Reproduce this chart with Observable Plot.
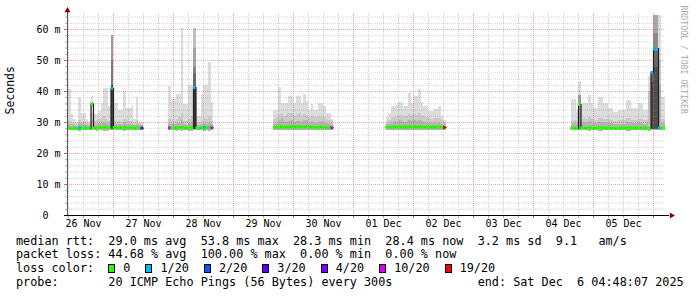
<!DOCTYPE html>
<html><head><meta charset="utf-8">
<script src="https://cdn.jsdelivr.net/npm/d3@7"></script>
<script src="https://cdn.jsdelivr.net/npm/@observablehq/plot@0.6"></script>
<style>
html,body{margin:0;padding:0;background:#fff}
body{width:697px;height:297px;overflow:hidden}
#chart svg{display:block}
#legend{font-family:"DejaVu Sans Mono",monospace;font-size:11.8px;line-height:13.7px;padding:2.6px 0 0 16px;white-space:pre;color:#000}
#legend .row{height:13.7px}
.box{display:inline-block;width:5px;height:7px;border:1px solid #000;margin-right:8px;vertical-align:-1px}
.item{margin-right:15px}
</style></head>
<body><div id="chart"></div><div id="legend"></div>
<script>
// ---- time frame of the graph ----
const graphStart = "2025-11-26T05:36Z";
const graphEnd = "2025-12-06T04:48Z";
const yTop = 65.16;

// ---- hourly buckets, segment 1 ----
const seg1Start = "2025-11-26T05:00Z";
const seg1Min = [27.3,27.3,27.4,27.4,27.4,27.2,27.3,27.3,27.4,27.4,27.3,27.3,27.2,27.3,27.3,27.2,27.2,27.3,27.4,27.3,27.3,27.3,27.4,27.2,27.3,27.3,27.3,27.4,27.3,27.4,27.4];
const seg1Max = [40.5,40.5,32.5,31,30,38,33,33,31,30,38.5,32.5,32.5,33.5,36,41,41,35,58,36,36,34,34,40,34.5,34.5,35,31,38,30,30];
const seg1Hi2 = [30.2,30.5,29.8,29.6,29.4,30.8,30,30.4,29.6,29.5,33,30.2,30.6,31,31.2,31.8,31,30.4,45,30.8,30.4,30.2,30,31,30.6,30.2,30.4,29.8,30.8,29.6,29.5];
const seg1Hi3 = [29.2,29.4,29,28.9,28.8,29.6,29.2,29.4,29,28.9,30.5,29.3,29.5,29.8,29.6,30,29.7,29.4,40,29.6,29.4,29.2,29.1,29.8,29.4,29.2,29.3,29,29.5,28.9,28.9];
const seg1Median = [28.2,28.2,28.1,28.1,28.0,28.3,28.2,28.2,28.1,28.1,36.0,28.2,28.3,28.3,28.4,28.5,28.4,28.3,41.0,28.4,28.3,28.3,28.2,28.4,28.3,28.3,28.3,28.2,28.3,28.2,28.2];
const seg1Loss = [0,0,0,0,0,1,0,0,0,0,0,0,0,0,0,0,0,0,1,0,0,0,0,0,0,0,0,0,0,0,4];

// ---- segment 2 ----
const seg2Start = "2025-11-27T22:00Z";
const seg2Min = [27.4,27.3,27.3,27.2,27.3,27.2,27.3,27.3,27.2,27.2,27.3,27.4,27.4,27.3,27.2,27.3,27.2,27.4];
const seg2Max = [41.6,37.4,37.4,39,39,60.6,35.8,35.8,42,42,60.3,32,32,39,42,42,49.4,36.5];
const seg2Hi2 = [31,30.6,30.4,31,31.5,33,30.4,30.2,31,31.8,50,29.8,30,30.6,31.4,31,32,30.4];
const seg2Hi3 = [29.4,29.3,29.2,29.6,29.8,30.5,29.2,29.1,29.6,30,45,28.9,29,29.4,29.8,29.5,29.8,29.2];
const seg2Median = [28.3,28.2,28.2,28.3,28.3,28.4,28.2,28.2,28.3,28.4,41.3,28.2,28.2,28.3,28.4,28.3,28.4,28.3];
const seg2Loss = [10,0,0,0,0,0,0,0,0,0,1,0,0,0,1,0,0,10];

// ---- segment 3 ----
const seg3Start = "2025-11-29T16:00Z";
const seg3Min = [27.5,27.4,27.4,27.3,27.4,27.4,27.3,27.3,27.4,27.3,27.3,27.4,27.3,27.3,27.4,27.4,27.4,27.4,27.4,27.4,27.4,27.5,27.5,27.5];
const seg3Max = [34,34,41.4,36,36,36,38.4,38.4,36,38.4,38.4,36,39,36.9,33.9,35.8,33.9,33.9,36,36,35,32.8,32.8,31];
const seg3Hi2 = [31,31.5,32.5,32.8,32,32.5,32.8,33,32,32.6,32.8,32,32.5,32.2,31.6,32,31.5,31.6,32,32,31.5,31,30.8,30.2];
const seg3Hi3 = [29.5,29.8,30.5,31.3,30.2,30,30.4,30.6,30,30.4,30.2,30,30.5,30.8,29.8,30.2,29.8,29.8,30,30.2,29.8,29.6,29.5,29.2];
const seg3Median = [28.4,28.5,28.5,28.6,28.5,28.5,28.6,28.6,28.5,28.6,28.6,28.5,28.6,28.6,28.5,28.5,28.4,28.4,28.5,28.5,28.4,28.4,28.4,28.3];
const seg3Loss = [0,0,0,0,0,0,0,0,0,0,0,0,0,0,0,0,0,0,0,0,0,0,0,10];

// ---- segment 4 ----
const seg4Start = "2025-12-01T13:00Z";
const seg4Min = [27.5,27.5,27.4,27.4,27.4,27.3,27.3,27.4,27.4,27.3,27.3,27.3,27.3,27.3,27.4,27.4,27.4,27.4,27.4,27.4,27.4,27.4,27.5,27.5];
const seg4Max = [31.6,33,35,35,35.5,36.5,36.5,35,35,39.2,36,38.4,38.4,40.6,36.5,35,35,33.6,33.6,34.2,34.2,35,31.9,30.6];
const seg4Hi2 = [30,30.6,31.2,31.6,32,32.4,32.2,31.8,32,32.6,32.2,32.5,32.4,32.8,32.2,31.8,31.6,31.2,31,31.2,31.4,31.2,30.6,30];
const seg4Hi3 = [29.2,29.5,29.8,30.4,30,30.5,30.2,29.9,30,30.8,30.3,30.6,30.4,30.6,30.2,30,29.8,29.7,29.6,29.7,29.8,29.6,29.4,29.2];
const seg4Median = [28.4,28.5,28.5,28.5,28.6,28.6,28.6,28.5,28.5,28.6,28.6,28.6,28.6,28.6,28.6,28.5,28.5,28.5,28.5,28.5,28.5,28.5,28.4,28.4];
const seg4Loss = [0,0,0,0,0,0,0,0,0,0,0,0,0,0,0,0,0,0,0,0,0,0,0,19];

// ---- segment 5 ----
const seg5Start = "2025-12-04T15:00Z";
const seg5Min = [27.4,27.3,27.4,27.3,27.3,27.3,27.3,27.2,27.3,27.3,27.3,27.2,27.2,27.3,27.3,27.3,27.3,27.4,27.4,27.3,27.3,27.3,27.2,27.2,27.3,27.3,27.3,27.3,27.3,27.3,27.3,27.2,27.3,27.4,27.4,27.3,27.3,27.3];
const seg5Max = [37.4,37.4,33.9,43.2,36,36,36,38.7,36,34.5,34.5,38,38,36,36,34.5,34.5,33.2,33.2,33.9,33.9,33.9,37,37,34.5,34.5,34.5,36,36,34,34,44.8,46.2,64.5,64.5,64.5,38,38];
const seg5Hi2 = [30.4,30.6,30.2,38.7,31,31.2,31,31.6,31.2,30.8,30.8,31.4,31.4,31,31,30.8,30.6,30.4,30.4,30.6,30.6,30.6,31.2,31.2,30.8,30.8,30.8,31,31,30.6,30.8,38,46,60,60,50,31,31];
const seg5Hi3 = [29.4,29.6,29.2,37,29.8,29.9,29.8,30.2,29.8,29.6,29.6,30,30,29.8,29.8,29.6,29.6,29.4,29.4,29.5,29.5,29.5,29.9,29.9,29.6,29.6,29.6,29.8,29.8,29.5,29.6,33,44,53,53,42,29.8,29.8];
const seg5Median = [28.2,28.2,28.1,35.8,28.2,28.2,28.2,28.3,28.2,28.2,28.2,28.3,28.3,28.2,28.2,28.2,28.2,28.1,28.1,28.2,28.2,28.2,28.3,28.3,28.2,28.2,28.2,28.2,28.2,28.2,28.2,28.2,46.2,53.8,53.8,28.2,28.2,28.2];
const seg5Loss = [0,0,0,0,0,0,0,0,0,0,0,0,0,0,0,0,0,0,0,0,0,0,0,0,0,0,0,0,0,0,0,0,1,1,1,1,0,0];

// ---- darker smoke bands in the spikes ----
const bandTime = ["2025-11-26T23:00Z","2025-11-26T23:00Z","2025-11-26T23:00Z",
  "2025-11-28T08:00Z","2025-11-28T08:00Z","2025-11-28T08:00Z","2025-11-28T08:00Z","2025-11-28T08:00Z",
  "2025-12-04T18:00Z","2025-12-05T22:00Z","2025-12-05T23:00Z","2025-12-05T23:00Z",
  "2025-12-06T00:00Z","2025-12-06T00:00Z","2025-12-06T00:00Z","2025-12-06T00:00Z",
  "2025-12-06T01:00Z","2025-12-06T01:00Z","2025-12-06T01:00Z","2025-12-06T01:00Z"];
const bandLow = [27.6,27.6,27.6, 27.6,27.6,27.6,27.6,27.6, 27.6,27.6,27.6,27.6, 27.6,27.6,27.6,27.6, 27.6,27.6,27.6,27.6];
const bandHigh = [58,50,42, 60.3,54,47.7,45.8,41.6, 38.7,40,46,43, 64.5,58.7,53,47.7, 64.5,58.7,53,47.7];
const bandShade = ["#9a9a9a","#7a7a7a","#454545",
  "#c2c2c2","#a4a4a4","#858585","#676767","#3a3a3a",
  "#9c9c9c","#c4c4c4","#6a6a6a","#4a4a4a",
  "#a6a6a6","#8a8a8a","#686868","#4e4e4e",
  "#a6a6a6","#8a8a8a","#686868","#4e4e4e"];

// ---- loss colour legend ----
const lossCounts = [0,1,2,3,4,10,19];
const lossLabels = ["0","1/20","2/20","3/20","4/20","10/20","19/20"];
const lossColors = ["#26ff00","#00b8ff","#0059ff","#5e00ff","#7e00ff","#dd00ff","#ff0000"];

// ---- texts ----
const yLabel = "Seconds";
const credit = "RRDTOOL / TOBI OETIKER";
const line1 = "median rtt:  29.0 ms avg  53.8 ms max  28.3 ms min  28.4 ms now  3.2 ms sd  9.1   am/s";
const line2 = "packet loss: 44.68 % avg  100.00 % max  0.00 % min  0.00 % now";
const line3Label = "loss color:  ";
const line4Left = "probe:       20 ICMP Echo Pings (56 Bytes) every 300s";
const line4Right = "end: Sat Dec  6 04:48:07 2025";

// ---- build tables ----
const HOUR = 3600e3;
const segments = [
  {start: seg1Start, min: seg1Min, max: seg1Max, hi2: seg1Hi2, hi3: seg1Hi3, median: seg1Median, loss: seg1Loss},
  {start: seg2Start, min: seg2Min, max: seg2Max, hi2: seg2Hi2, hi3: seg2Hi3, median: seg2Median, loss: seg2Loss},
  {start: seg3Start, min: seg3Min, max: seg3Max, hi2: seg3Hi2, hi3: seg3Hi3, median: seg3Median, loss: seg3Loss},
  {start: seg4Start, min: seg4Min, max: seg4Max, hi2: seg4Hi2, hi3: seg4Hi3, median: seg4Median, loss: seg4Loss},
  {start: seg5Start, min: seg5Min, max: seg5Max, hi2: seg5Hi2, hi3: seg5Hi3, median: seg5Median, loss: seg5Loss}
];
const colorOf = n => lossColors[lossCounts.indexOf(n)];
const buckets = segments.flatMap((s, si) => s.max.map((m, i) => {
  const t0 = new Date(+new Date(s.start) + i * HOUR);
  return {seg: si, t0, t1: new Date(+t0 + HOUR), min: s.min[i], max: m, hi2: s.hi2[i], hi3: s.hi3[i], median: s.median[i], loss: s.loss[i]};
}));
const medPts = buckets.flatMap(b => [{seg: b.seg, t: b.t0, v: b.median}, {seg: b.seg, t: b.t1, v: b.median}]);
const bands = bandTime.map((t, i) => {
  const t0 = new Date(t);
  return {t0, t1: new Date(+t0 + HOUR), low: bandLow[i], high: bandHigh[i], shade: bandShade[i]};
});

const x0 = new Date(graphStart), x1 = new Date(graphEnd);
const majorY = d3.range(10, 61, 10);
const minorY = d3.range(2, yTop, 2).filter(v => v % 10 !== 0);
const majorX = d3.utcDay.range(d3.utcDay.ceil(x0), x1);
const minorX = d3.utcHour.every(6).range(x0, x1).filter(d => d.getUTCHours() !== 0);
const noonX = d3.utcDay.range(d3.utcDay.floor(x0), x1).map(d => d3.utcHour.offset(d, 12)).filter(d => d >= x0 && d <= x1);

const minorGrid = "rgba(140,140,140,0.38)", majorGrid = "rgba(222,80,80,0.5)";

const chart = Plot.plot({
  width: 697, height: 232,
  marginLeft: 67, marginRight: 32, marginTop: 13, marginBottom: 17,
  style: {fontFamily: '"DejaVu Sans Mono", monospace', fontSize: "10px", background: "#fff", color: "#000", overflow: "visible"},
  x: {type: "utc", domain: [x0, x1], axis: null},
  y: {domain: [0, yTop], axis: null},
  color: {type: "identity"},
  marks: [
    Plot.rect(buckets, {x1: "t0", x2: "t1", y1: "min", y2: "max", fill: "#dddddd", clip: true, shapeRendering: "crispEdges"}),
    Plot.rect(buckets, {x1: "t0", x2: "t1", y1: "min", y2: "hi2", fill: "#cacaca", clip: true, shapeRendering: "crispEdges"}),
    Plot.rect(buckets, {x1: "t0", x2: "t1", y1: "min", y2: "hi3", fill: "#b4b4b4", clip: true, shapeRendering: "crispEdges"}),
    Plot.rect(bands, {x1: "t0", x2: "t1", y1: "low", y2: "high", fill: "shade", clip: true, shapeRendering: "crispEdges"}),
    Plot.ruleY(minorY, {stroke: minorGrid, strokeDasharray: "1,1"}),
    Plot.ruleX(minorX, {stroke: minorGrid, strokeDasharray: "1,1"}),
    Plot.ruleY(majorY, {stroke: majorGrid, strokeDasharray: "1,1"}),
    Plot.ruleX(majorX, {stroke: majorGrid, strokeDasharray: "1,1"}),
    Plot.line(medPts, {x: "t", y: "v", z: "seg", stroke: "#202020", strokeWidth: 1.2, clip: true}),
    Plot.ruleY(buckets, {x1: "t0", x2: "t1", y: "median", stroke: d => colorOf(d.loss), strokeWidth: 3, clip: true}),
    Plot.axisX({ticks: minorX, tickSize: 3, tickFormat: () => "", stroke: "#aaa"}),
    Plot.axisX({ticks: majorX, tickSize: 3, tickFormat: () => "", stroke: "#d06060"}),
    Plot.axisX({ticks: noonX, tickSize: 0, tickPadding: 4, tickFormat: d3.utcFormat("%d %b")}),
    Plot.axisY({ticks: minorY, tickSize: 2, tickFormat: () => "", stroke: "#aaa"}),
    Plot.axisY({ticks: [0, ...majorY], tickSize: 3, tickPadding: 4, stroke: "#d06060", tickFormat: d => d === 0 ? "0\u00a0\u00a0" : d + " m"}),
    Plot.ruleX([x0], {stroke: "#555", insetTop: -3}),
    Plot.ruleY([0], {stroke: "#000", insetLeft: -3, insetRight: -4}),
    Plot.dot([x1], {x: d => d, y: 0, symbol: "triangle", r: 2.2, fill: "#800000", stroke: null, rotate: 90, dx: 6}),
    Plot.dot([x0], {x: d => d, y: yTop, symbol: "triangle", r: 2.2, fill: "#800000", stroke: null, dy: -3}),
    Plot.text([yLabel], {text: d => d, frameAnchor: "left", dx: -57, rotate: -90, fontSize: 11.5}),
    Plot.text([credit], {text: d => d, frameAnchor: "top-right", dx: 21, dy: -8, rotate: 90, textAnchor: "start", fill: "#aaaaaa", fontSize: 8.2})
  ]
});
document.getElementById("chart").append(chart);

// ---- legend below the chart ----
const legend = document.getElementById("legend");
function row(html) { const d = document.createElement("div"); d.className = "row"; d.innerHTML = html; legend.append(d); return d; }
const esc = s => s.replace(/&/g, "&amp;").replace(/</g, "&lt;");
row(esc(line1));
row(esc(line2));
row(esc(line3Label) + lossLabels.map((l, i) =>
  `<span class="item"${i === lossLabels.length - 1 ? ' style="margin-right:0"' : ''}><span class="box" style="background:${lossColors[i]}"></span>${esc(l)}</span>`).join(""));
row(esc(line4Left.padEnd(65, " ") + line4Right));
</script></body></html>
